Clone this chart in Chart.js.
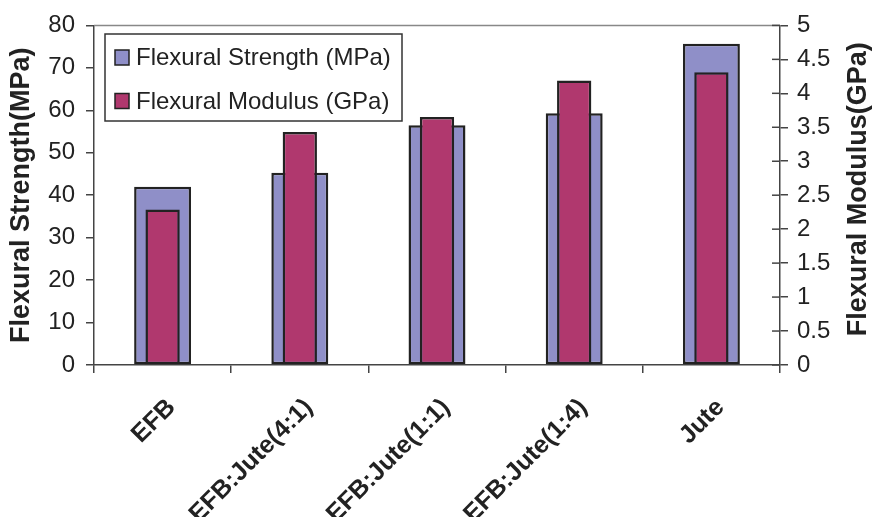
<!DOCTYPE html>
<html>
<head>
<meta charset="utf-8">
<script src="https://cdn.jsdelivr.net/npm/chart.js@4"></script>
<style>
html,body{margin:0;padding:0;background:#fff;}
#wrap{width:872px;height:517px;position:relative;}
</style>
</head>
<body>
<div id="wrap"><canvas id="c" width="872" height="517"></canvas></div>
<script>
const categories = ['EFB', 'EFB:Jute(4:1)', 'EFB:Jute(1:1)', 'EFB:Jute(1:4)', 'Jute'];
const strengthMPa = [42.0, 45.3, 56.5, 59.3, 75.7];
const modulusGPa = [2.29, 3.43, 3.65, 4.19, 4.31];
const seriesNames = ['Flexural Strength (MPa)', 'Flexural Modulus (GPa)'];
const leftTitle = 'Flexural Strength(MPa)';
const rightTitle = 'Flexural Modulus(GPa)';

const FONT = '"Liberation Sans", Arial, sans-serif';
const BLUE = '#8f8fc8';
const MAROON = '#b0386e';
const EDGE = '#222';

const extras = {
  id: 'extras',
  afterDraw(chart) {
    const ctx = chart.ctx;
    const ca = chart.chartArea;
    ctx.save();
    // top border
    ctx.strokeStyle = '#888';
    ctx.lineWidth = 1.5;
    ctx.beginPath();
    ctx.moveTo(ca.left, ca.top);
    ctx.lineTo(ca.right, ca.top);
    ctx.stroke();
    // inner half of right axis ticks (crossing ticks)
    const y1 = chart.scales.y1;
    ctx.strokeStyle = '#444';
    ctx.lineWidth = 1.5;
    y1.ticks.forEach((t) => {
      const py = y1.getPixelForValue(t.value);
      ctx.beginPath();
      ctx.moveTo(ca.right - 8, py);
      ctx.lineTo(ca.right, py);
      ctx.stroke();
    });
    // right axis title, reading bottom-to-top
    ctx.save();
    ctx.translate(859, (ca.top + ca.bottom) / 2 - 6);
    ctx.rotate(-Math.PI / 2);
    ctx.font = 'bold 27px ' + FONT;
    ctx.fillStyle = '#222';
    ctx.textAlign = 'center';
    ctx.textBaseline = 'middle';
    ctx.fillText(rightTitle, 0, 0);
    ctx.restore();
    // legend
    const lx = 105, ly = 34, lw = 297, lh = 87;
    ctx.fillStyle = '#fff';
    ctx.fillRect(lx, ly, lw, lh);
    ctx.strokeStyle = '#333';
    ctx.lineWidth = 1.5;
    ctx.strokeRect(lx, ly, lw, lh);
    const cols = [BLUE, MAROON];
    const ys = [57.5, 101];
    ctx.font = '24px ' + FONT;
    ctx.textBaseline = 'middle';
    ctx.textAlign = 'left';
    seriesNames.forEach((n, i) => {
      ctx.fillStyle = cols[i];
      ctx.fillRect(115, ys[i] - 7.5, 14, 15);
      ctx.strokeStyle = EDGE;
      ctx.lineWidth = 1.5;
      ctx.strokeRect(115, ys[i] - 7.5, 14, 15);
      ctx.fillStyle = '#222';
      ctx.fillText(n, 136, ys[i] + 1);
    });
    ctx.restore();
  }
};

new Chart(document.getElementById('c'), {
  type: 'bar',
  data: {
    labels: categories,
    datasets: [
      {
        label: seriesNames[0],
        data: strengthMPa,
        yAxisID: 'y',
        backgroundColor: BLUE,
        borderColor: EDGE,
        borderWidth: 2.5,
        borderSkipped: false,
        barPercentage: 0.415,
        categoryPercentage: 1,
        grouped: false,
        order: 1
      },
      {
        label: seriesNames[1],
        data: modulusGPa,
        yAxisID: 'y1',
        backgroundColor: MAROON,
        borderColor: EDGE,
        borderWidth: 2.5,
        borderSkipped: false,
        barPercentage: 0.25,
        categoryPercentage: 1,
        grouped: false,
        order: 0
      }
    ]
  },
  options: {
    responsive: false,
    animation: false,
    devicePixelRatio: 1,
    layout: { padding: { top: 24, left: 0, right: 0, bottom: 0 } },
    plugins: { legend: { display: false }, tooltip: { enabled: false }, title: { display: false } },
    scales: {
      x: {
        offset: true,
        afterFit: (s) => { s.height = 152; },
        grid: { display: true, drawOnChartArea: false, tickLength: 8, color: '#444', lineWidth: 1.5, offset: true },
        border: { display: true, color: '#444', width: 1.5 },
        ticks: {
          color: '#222',
          font: { family: FONT, size: 25, weight: 'bold' },
          maxRotation: 45, minRotation: 45,
          autoSkip: false,
          padding: 20,
          labelOffset: 9
        }
      },
      y: {
        position: 'left',
        min: 0, max: 80,
        afterFit: (s) => { s.width = 94; },
        grid: { display: true, drawOnChartArea: false, tickLength: 8, color: '#444', lineWidth: 1.5 },
        border: { display: true, color: '#444', width: 1.5 },
        ticks: { stepSize: 10, color: '#222', font: { family: FONT, size: 24 }, padding: 11 },
        title: { display: true, text: leftTitle, color: '#222', font: { family: FONT, size: 27, weight: 'bold', lineHeight: 1 }, padding: 8 }
      },
      y1: {
        position: 'right',
        min: 0, max: 5,
        afterFit: (s) => { s.width = 92; },
        grid: { display: true, drawOnChartArea: false, tickLength: 8, color: '#444', lineWidth: 1.5 },
        border: { display: true, color: '#444', width: 1.5 },
        ticks: { stepSize: 0.5, color: '#222', font: { family: FONT, size: 24 }, padding: 9,
          callback: (v) => String(Math.round(v * 10) / 10) },
        title: { display: false }
      }
    }
  },
  plugins: [extras]
});
</script>
</body>
</html>
